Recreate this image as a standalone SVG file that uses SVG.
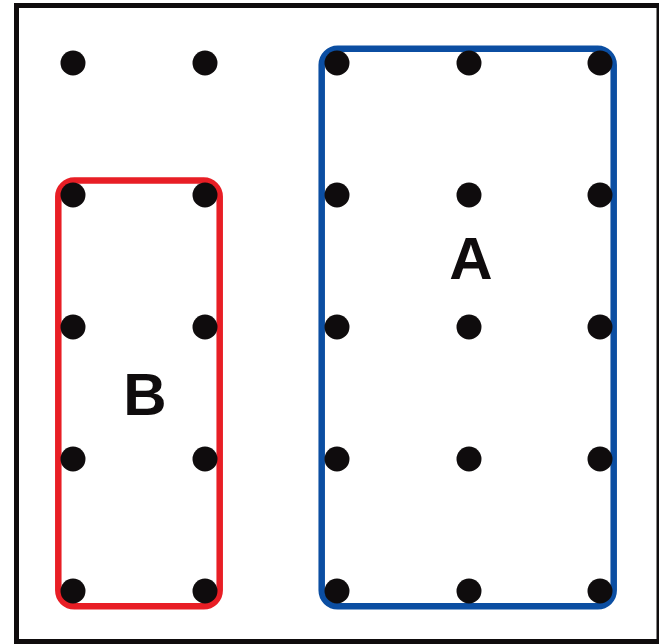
<svg xmlns="http://www.w3.org/2000/svg" width="659" height="644" viewBox="0 0 659 644">
<style>
.dot{fill:#0f0c0d}
.lbl{font-family:"Liberation Sans",Arial,sans-serif;font-weight:bold;font-size:60px;fill:#0f0c0d;text-anchor:middle}
</style>
<rect x="0" y="0" width="659" height="644" fill="#fff"/>
<rect x="16.5" y="5.5" width="642.5" height="636" fill="none" stroke="#0f0c0d" stroke-width="5"/>
<g id="connectors">
<rect id="regionA" x="321.7" y="48.8" width="292" height="557.5" rx="16" fill="none" stroke="#0b4ea2" stroke-width="6.5"/>
<rect id="regionB" x="58.3" y="180.5" width="161.4" height="425.8" rx="16" fill="none" stroke="#e81e25" stroke-width="6.5"/>
</g>
<g id="dots">
<circle class="dot" cx="73" cy="63" r="12.5"/><circle class="dot" cx="205" cy="63" r="12.5"/><circle class="dot" cx="337" cy="63" r="12.5"/><circle class="dot" cx="469" cy="63" r="12.5"/><circle class="dot" cx="600" cy="63" r="12.5"/>
<circle class="dot" cx="73" cy="195" r="12.5"/><circle class="dot" cx="205" cy="195" r="12.5"/><circle class="dot" cx="337" cy="195" r="12.5"/><circle class="dot" cx="469" cy="195" r="12.5"/><circle class="dot" cx="600" cy="195" r="12.5"/>
<circle class="dot" cx="73" cy="327" r="12.5"/><circle class="dot" cx="205" cy="327" r="12.5"/><circle class="dot" cx="337" cy="327" r="12.5"/><circle class="dot" cx="469" cy="327" r="12.5"/><circle class="dot" cx="600" cy="327" r="12.5"/>
<circle class="dot" cx="73" cy="459" r="12.5"/><circle class="dot" cx="205" cy="459" r="12.5"/><circle class="dot" cx="337" cy="459" r="12.5"/><circle class="dot" cx="469" cy="459" r="12.5"/><circle class="dot" cx="600" cy="459" r="12.5"/>
<circle class="dot" cx="73" cy="591" r="12.5"/><circle class="dot" cx="205" cy="591" r="12.5"/><circle class="dot" cx="337" cy="591" r="12.5"/><circle class="dot" cx="469" cy="591" r="12.5"/><circle class="dot" cx="600" cy="591" r="12.5"/>
</g>
<g id="labelA"><text class="lbl" x="471" y="279">A</text></g>
<g id="labelB"><text class="lbl" x="145" y="415">B</text></g>
</svg>
